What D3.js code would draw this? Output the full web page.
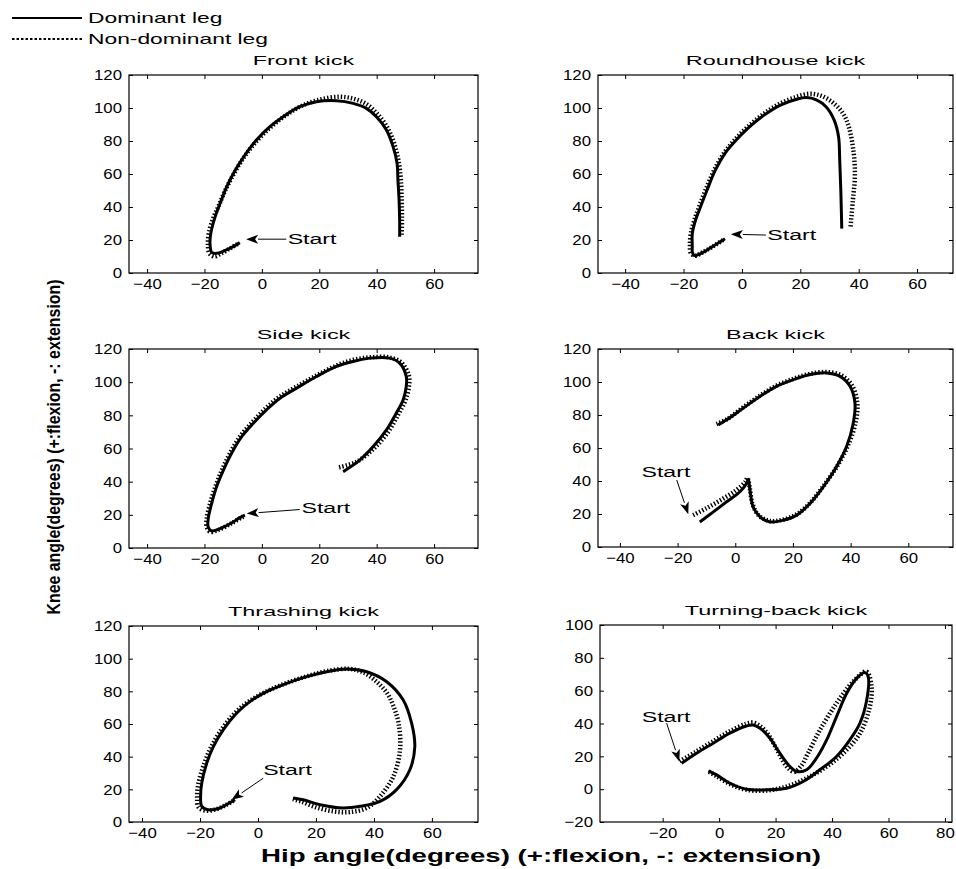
<!DOCTYPE html>
<html>
<head>
<meta charset="utf-8">
<script src="https://cdn.jsdelivr.net/npm/d3@7"></script>
<style>
  body { margin: 0; background: #fff; }
  svg text { font-family: "Liberation Sans", Arial, sans-serif; fill: #000; }
</style>
</head>
<body>
<div id="container"></div>
<script>
// hip angle (x) vs knee angle (y), degrees

var xTicksA = [-40, -20, 0, 20, 40, 60];
var xTicksB = [-20, 0, 20, 40, 60, 80];
var yTicksA = [0, 20, 40, 60, 80, 100, 120];
var yTicksB = [-20, 0, 20, 40, 60, 80, 100];

var titles = ["Front kick", "Roundhouse kick", "Side kick", "Back kick", "Thrashing kick", "Turning-back kick"];
var legendLabels = ["Dominant leg", "Non-dominant leg"];

var fkDom = [[-7.7,18.4],[-10,16],[-13,13.5],[-15.8,11.9],[-17.5,12.5],[-18,16],[-17.9,23],[-16.3,34],[-14.6,42],[-12.3,52],[-9.4,62],[-5.9,71.5],[-1.9,80.6],[2.8,88.7],[7.4,94.7],[13.2,100.8],[19,103.8],[26,104.4],[31.8,102.8],[36.4,99.8],[39.9,94.7],[43.4,86.7],[45.7,76.6],[47.1,66.5],[47.4,56.4],[47.8,44.2],[48,32],[48,22]];
var fkNon = [[-8.5,17.5],[-11,15],[-14,12],[-16.5,10],[-18.3,12],[-18.8,17],[-18.5,24],[-17,33],[-15,41],[-12.8,50],[-9.8,60],[-6.3,70],[-2.3,79],[2.5,87.5],[7.5,94.5],[13.5,101],[20,105],[27,106.8],[32,105.6],[36.5,102.3],[40.2,96.5],[43.6,88.5],[46,79],[47.6,68],[48.4,57],[48.7,45],[48.8,33],[48.7,22]];

var rhDom = [[-5.8,20.8],[-8,18.3],[-10.3,15.8],[-14.2,11.7],[-16.4,10.7],[-17,13],[-17,15.8],[-17,23.9],[-15.9,32],[-14.2,40],[-12,50],[-9.2,62],[-5.8,72.5],[-2.5,79.5],[2,87.6],[7.6,95.7],[13.2,101.8],[18.8,105.3],[22.1,106.3],[25.5,104.9],[28.8,100.8],[31.6,92.7],[33.1,82.6],[33.5,68.4],[33.9,48.2],[34.2,26.9]];
var rhNon = [[-6.5,20],[-10,16],[-13.5,12.5],[-16,10.5],[-17.5,12],[-17.8,17],[-17.5,24],[-16.3,32],[-14.6,40.5],[-12.4,50.5],[-9.6,62],[-6.2,72.5],[-2.8,80],[1.8,88.3],[7.5,96.5],[13.2,102.8],[18.8,106.8],[23,108.6],[27,107.5],[31,103.5],[34.5,97],[36.6,88.7],[38.3,72.5],[38.7,58.3],[38,44],[37.2,28]];

var skDom = [[-5.9,19.8],[-8,18],[-10,15.7],[-14.6,11.7],[-17.5,10.3],[-18.7,12.7],[-18.7,17.7],[-17.5,26.8],[-15.8,36.9],[-13.4,47],[-10.6,57],[-7.1,67],[-3,75.2],[1.6,83.3],[6.3,90.3],[12.1,96.4],[19,103.4],[26,109.5],[31.8,112.5],[37.6,114.5],[44.5,114.5],[48,111.5],[50.3,103.4],[50.3,97.4],[49.2,89.3],[46.8,81.3],[43.4,71.2],[38.7,61],[34.1,53],[28.3,46]];
var skNon = [[-6.5,19],[-10.5,15],[-15,11],[-18,9.8],[-19.2,12.5],[-19.2,18],[-18,27],[-16.2,37],[-13.8,47.5],[-11,57.5],[-7.5,67.5],[-3.4,75.8],[1.2,84],[6,91],[12,97.2],[19,104],[26,110],[32,113.5],[38,115],[44,115],[48.5,112],[51.2,104],[51.2,97],[50,89],[47.5,80.5],[44,70],[39,60],[33,52],[26.5,48.5]];

var bkDom = [[-12.3,15.2],[-7.6,21.3],[-3,27.4],[1.6,33.5],[3.9,38.5],[4.5,41],[5.1,34.5],[6.2,24.3],[8.6,18.3],[12,15.2],[16.6,16.2],[21.3,19.3],[25.9,26.4],[30.5,36.5],[35.1,48.7],[38.6,60.9],[40.9,75],[41.5,87.2],[39.8,97.4],[36.3,103.4],[31.7,105.5],[25.9,104.5],[20.1,101.4],[14.3,97.4],[8.6,91.3],[2.8,84.2],[-3,77.1],[-5.9,74]];
var bkNon = [[-14.6,19.3],[-10,23.5],[-5,28.5],[0,34],[3.5,39.5],[4.2,42],[5,36],[6,26],[8.2,19],[12,15.8],[16.6,16.6],[21.5,20],[26.2,27.2],[30.8,37.5],[35.5,49.5],[39.2,62],[41.8,76],[42.3,87.5],[40.5,97.8],[36.8,104],[32,106],[26,105],[20.3,102],[14.5,98],[8.8,92],[3,85],[-2.8,77.5],[-6.5,74.5]];

var thDom = [[-7.9,13.6],[-10.5,11],[-13.1,8.6],[-17.1,7.5],[-19.4,9.6],[-19.8,15.7],[-19.4,23.8],[-17.7,36],[-15.4,46.2],[-12,56.4],[-7.4,66.6],[-2.8,73.7],[3,79.8],[9.9,84.9],[16.8,89],[23.7,92],[30.6,93.7],[37.5,92],[44.4,85.9],[50.1,74.7],[53,60.5],[54.1,46.2],[52.4,32],[47.8,19.8],[42.1,12.6],[35.2,9.6],[29.4,8.6],[21.4,10.6],[15.6,13.6],[12.2,14.7]];
var thNon = [[-8.5,13],[-11.5,10],[-14.5,7.8],[-18,7],[-20.5,9],[-21,15.5],[-20.5,24],[-18.5,36],[-16,46.5],[-12.5,56.8],[-7.8,67],[-3,74],[3,80],[10,85.2],[17,89.3],[24,92.5],[31.7,93.7],[36.5,91.5],[40.9,85.9],[44.5,79],[46.7,71],[48.5,60.5],[49,44.2],[46.7,27.9],[42.1,15.7],[37.5,8.6],[31.7,6.1],[26,6.5],[20,9],[15,12.5],[12,14]];

var tbDom = [[-13.3,15.8],[-8,21.9],[-2.1,28],[3.8,34.1],[9.7,38.5],[12.1,39.1],[14.5,37.1],[18,31],[21.5,21.9],[25.1,13.8],[27.5,10.8],[31,11.8],[34.5,18.9],[38.1,30],[41.6,44.2],[45.2,58.4],[48.7,67.5],[51.7,71],[52.8,68.6],[52.3,54.4],[49.9,40.2],[46.3,30],[41.6,19.9],[35.7,11.8],[29.8,4.7],[23.9,0.6],[16.8,-0.4],[9.7,0],[3.8,3.6],[-0.9,8.7],[-3.8,11.2]];
var tbNon = [[-14,17],[-8.5,22.5],[-2.5,28.8],[3.5,35],[9.5,39.8],[12,40.5],[14.5,38.5],[17.5,33],[20.5,24],[23.9,14],[26.5,10.5],[29,14],[31.5,21.9],[35.7,36],[41.6,52.3],[47.5,65.5],[52.2,71.6],[54,62.5],[53.4,50.3],[49.9,34],[44,21.9],[38.1,13.8],[31,6.7],[23.9,1.6],[16.8,-0.8],[9.7,-0.4],[4,3],[-1,8],[-4,11]];

// "Start" callouts: label point, arrow tail, arrow tip (data units)
var startNotes = [
  { label: [9, 20.4], tail: [8.5, 20.5], tip: [-5.5, 20.5] },
  { label: [8.7, 23], tail: [8.2, 23], tip: [-3.8, 23.5] },
  { label: [13.8, 24.2], tail: [13.2, 23.2], tip: [-5.3, 20.8] },
  { label: [-32.5, 45.6], tail: [-20.3, 40.6], tip: [-16.3, 19.9] },
  { label: [1.8, 32], tail: [1.8, 26.8], tip: [-9.1, 13.6] },
  { label: [-27.4, 44.2], tail: [-18.6, 40.2], tip: [-14.1, 16.8] }
];

// panel layout (pixels) and axis limits
var panels = [
  { box: [129, 75, 349, 198], xDom: [-46.3, 75.3], yDom: [0, 120], xt: xTicksA, yt: yTicksA, dom: fkDom, non: fkNon },
  { box: [598, 75, 355, 198], xDom: [-49.3, 72.3], yDom: [0, 120], xt: xTicksA, yt: yTicksA, dom: rhDom, non: rhNon },
  { box: [129, 349, 349, 199], xDom: [-46.3, 75.3], yDom: [0, 120], xt: xTicksA, yt: yTicksA, dom: skDom, non: skNon },
  { box: [598, 349, 355, 198], xDom: [-47.6, 75.5], yDom: [0, 120], xt: xTicksA, yt: yTicksA, dom: bkDom, non: bkNon },
  { box: [129, 626, 349, 196], xDom: [-44.5, 75.9], yDom: [0, 120], xt: xTicksA, yt: yTicksA, dom: thDom, non: thNon },
  { box: [600, 625, 352, 197], xDom: [-42.2, 82.5], yDom: [-20, 100], xt: xTicksB, yt: yTicksB, dom: tbDom, non: tbNon }
];

var w = 956;
var h = 869;

// widen text to match the stretched lettering of the scan
function stretch(sel, k) {
  sel.each(function () {
    var len = this.getComputedTextLength();
    d3.select(this)
      .attr("textLength", len * k)
      .attr("lengthAdjust", "spacingAndGlyphs");
  });
}

var svg = d3
  .select("#container")
  .append("svg")
  .attr("width", w)
  .attr("height", h);

// legend
var legend = svg.append("g");
legend.append("line").attr("x1", 12).attr("x2", 82).attr("y1", 18).attr("y2", 18)
  .attr("stroke", "#000").attr("stroke-width", 1.8);
legend.append("line").attr("x1", 12).attr("x2", 82).attr("y1", 39).attr("y2", 39)
  .attr("stroke", "#000").attr("stroke-width", 1.8).attr("stroke-dasharray", "2.5,2");
legend.selectAll("text")
  .data(legendLabels)
  .enter()
  .append("text")
  .attr("x", 88)
  .attr("y", (d, i) => 23 + i * 21)
  .style("font-size", "15px")
  .text((d) => d)
  .call(stretch, 1.52);

panels.forEach(function (p, i) {
  var bx = p.box[0], by = p.box[1], bw = p.box[2], bh = p.box[3];
  var g = svg.append("g").attr("transform", "translate(" + bx + "," + by + ")");

  var xScale = d3.scaleLinear().domain(p.xDom).range([0, bw]);
  var yScale = d3.scaleLinear().domain(p.yDom).range([bh, 0]);

  // axes with inward ticks on all sides
  var xAxis = g.append("g").attr("transform", "translate(0," + bh + ")")
    .call(d3.axisBottom(xScale).tickValues(p.xt).tickSizeInner(-4).tickSizeOuter(0).tickPadding(5));
  var yAxis = g.append("g")
    .call(d3.axisLeft(yScale).tickValues(p.yt).tickSizeInner(-4).tickSizeOuter(0).tickPadding(7));
  g.append("g")
    .call(d3.axisTop(xScale).tickValues(p.xt).tickSizeInner(-4).tickSizeOuter(0).tickFormat(""));
  g.append("g").attr("transform", "translate(" + bw + ",0)")
    .call(d3.axisRight(yScale).tickValues(p.yt).tickSizeInner(-4).tickSizeOuter(0).tickFormat(""));

  g.selectAll(".domain").remove();
  g.selectAll(".tick line").attr("stroke", "#000");
  g.selectAll(".tick text")
    .style("font-size", "15px")
    .style("font-family", '"Liberation Sans", Arial, sans-serif')
    .attr("fill", "#000");
  xAxis.selectAll("text").call(stretch, 1.12);
  yAxis.selectAll("text").call(stretch, 1.12);

  g.append("rect")
    .attr("width", bw)
    .attr("height", bh)
    .attr("fill", "none")
    .attr("stroke", "#000")
    .attr("stroke-width", 1.2);

  // title
  g.append("text")
    .attr("x", bw / 2)
    .attr("y", -10)
    .attr("text-anchor", "middle")
    .style("font-size", "13px")
    .text(titles[i])
    .call(stretch, 1.8);

  var line = d3.line()
    .x((d) => xScale(d[0]))
    .y((d) => yScale(d[1]))
    .curve(d3.curveCatmullRom.alpha(0.5));

  // non-dominant leg (dotted) under dominant leg (solid)
  g.append("path")
    .datum(p.non)
    .attr("d", line)
    .attr("fill", "none")
    .attr("stroke", "#000")
    .attr("stroke-width", 4.5)
    .attr("stroke-dasharray", "1.4,2");

  g.append("path")
    .datum(p.dom)
    .attr("d", line)
    .attr("fill", "none")
    .attr("stroke", "#000")
    .attr("stroke-width", 3)
    .attr("stroke-linejoin", "round");

  // start callout
  var n = startNotes[i];
  var tx = xScale(n.tail[0]), ty = yScale(n.tail[1]);
  var hx = xScale(n.tip[0]), hy = yScale(n.tip[1]);
  var ang = Math.atan2(hy - ty, hx - tx);
  var len = 12, half = 4.5;
  var bxh = hx - len * Math.cos(ang), byh = hy - len * Math.sin(ang);

  g.append("line")
    .attr("x1", tx).attr("y1", ty)
    .attr("x2", bxh).attr("y2", byh)
    .attr("stroke", "#000")
    .attr("stroke-width", 1);

  g.append("path")
    .attr("d", "M" + hx + "," + hy +
      "L" + (bxh + half * Math.sin(ang)) + "," + (byh - half * Math.cos(ang)) +
      "L" + (bxh + 3 * Math.cos(ang)) + "," + (byh + 3 * Math.sin(ang)) +
      "L" + (bxh - half * Math.sin(ang)) + "," + (byh + half * Math.cos(ang)) + "Z")
    .attr("fill", "#000");

  g.append("text")
    .attr("x", xScale(n.label[0]))
    .attr("y", yScale(n.label[1]))
    .attr("dy", "0.35em")
    .style("font-size", "14px")
    .text("Start")
    .call(stretch, 1.65);
});

// shared axis titles
svg.append("text")
  .attr("x", 541)
  .attr("y", 862)
  .attr("text-anchor", "middle")
  .style("font-size", "18px")
  .style("font-weight", "bold")
  .text("Hip angle(degrees) (+:flexion, -: extension)")
  .attr("textLength", 560)
  .attr("lengthAdjust", "spacingAndGlyphs");

svg.append("text")
  .attr("transform", "translate(60,447) rotate(-90)")
  .attr("text-anchor", "middle")
  .style("font-size", "18px")
  .style("font-weight", "bold")
  .text("Knee angle(degrees) (+:flexion, -: extension)")
  .attr("textLength", 335)
  .attr("lengthAdjust", "spacingAndGlyphs");
</script>
</body>
</html>
